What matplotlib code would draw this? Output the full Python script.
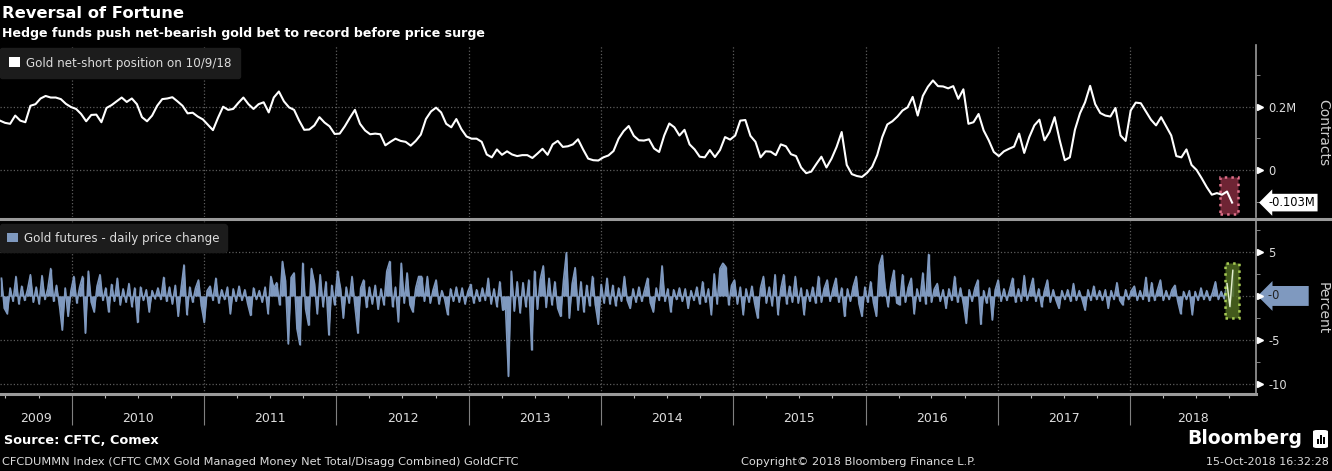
import numpy as np
import pandas as pd
import matplotlib
matplotlib.use("Agg")
import matplotlib.pyplot as plt
import matplotlib.dates as mdates
import matplotlib.transforms as mtransforms
from matplotlib.patches import Rectangle, FancyBboxPatch, Patch
from matplotlib.lines import Line2D

plt.rcParams['font.family'] = ['DejaVu Sans']

# gold managed money net position, million contracts, every two weeks up to 10/9/18
pos_end = '2018-10-09'
net_short = [
    0.156, 0.149, 0.146, 0.172, 0.156, 0.151, 0.203, 0.208, 0.226, 0.234,
    0.229, 0.229, 0.224, 0.209, 0.199, 0.193, 0.177, 0.154, 0.174, 0.175,
    0.151, 0.196, 0.205, 0.217, 0.229, 0.215, 0.226, 0.208, 0.167, 0.154,
    0.172, 0.203, 0.224, 0.226, 0.230, 0.217, 0.203, 0.179, 0.181, 0.169,
    0.160, 0.143, 0.126, 0.165, 0.200, 0.190, 0.193, 0.212, 0.229, 0.208,
    0.193, 0.208, 0.214, 0.182, 0.229, 0.248, 0.217, 0.198, 0.190, 0.156,
    0.127, 0.128, 0.141, 0.167, 0.150, 0.138, 0.114, 0.115, 0.138, 0.165,
    0.190, 0.146, 0.125, 0.113, 0.115, 0.113, 0.078, 0.089, 0.099, 0.092,
    0.089, 0.077, 0.092, 0.112, 0.161, 0.185, 0.197, 0.182, 0.146, 0.135,
    0.161, 0.129, 0.106, 0.099, 0.099, 0.089, 0.049, 0.040, 0.065, 0.048,
    0.059, 0.049, 0.044, 0.047, 0.047, 0.038, 0.052, 0.067, 0.048, 0.081,
    0.092, 0.073, 0.075, 0.081, 0.097, 0.065, 0.036, 0.031, 0.030, 0.040,
    0.046, 0.060, 0.099, 0.123, 0.139, 0.108, 0.094, 0.093, 0.097, 0.068,
    0.057, 0.109, 0.147, 0.135, 0.109, 0.127, 0.081, 0.065, 0.042, 0.040,
    0.063, 0.041, 0.063, 0.104, 0.096, 0.109, 0.156, 0.158, 0.108, 0.089,
    0.040, 0.059, 0.058, 0.047, 0.081, 0.075, 0.050, 0.044, 0.008, -0.010,
    -0.005, 0.019, 0.042, 0.008, 0.036, 0.073, 0.120, 0.016, -0.013, -0.019,
    -0.022, -0.009, 0.010, 0.047, 0.104, 0.144, 0.154, 0.169, 0.188, 0.198,
    0.231, 0.172, 0.234, 0.263, 0.283, 0.265, 0.264, 0.258, 0.265, 0.225,
    0.255, 0.146, 0.151, 0.177, 0.125, 0.094, 0.057, 0.044, 0.059, 0.067,
    0.074, 0.115, 0.054, 0.104, 0.141, 0.159, 0.094, 0.120, 0.167, 0.094,
    0.031, 0.040, 0.127, 0.179, 0.214, 0.266, 0.208, 0.180, 0.172, 0.169,
    0.196, 0.109, 0.092, 0.188, 0.213, 0.211, 0.185, 0.159, 0.141, 0.167,
    0.138, 0.109, 0.044, 0.040, 0.065, 0.016, 0.000, -0.026, -0.054, -0.078,
    -0.073, -0.078, -0.068, -0.103,
]

# gold futures daily % change, sampled every 8 days
chg_end = '2018-10-11'
chg_2009_2012 = [
    2.0, -1.4, -2.0, 0.9, -0.6, 2.2, -0.9, 1.1, -0.5, 0.7,
    2.4, -0.7, 1.0, -0.9, 2.3, -0.4, 0.8, 3.1, -0.6, 1.2,
    -1.0, -3.85, 0.9, -2.3, 0.6, 2.2, -0.8, 1.0, 2.2, -4.2,
    2.8, -0.7, -1.8, 1.1, 2.4, -0.5, 0.9, -1.8, 1.3, -0.6,
    2.0, -1.0, 0.8, -0.7, 1.4, -1.2, 0.9, -3.0, 1.0, -0.5,
    0.7, -1.8, 0.6, -0.3, 0.9, -0.4, 2.1, -0.6, 1.0, -0.9,
    1.2, -2.3, 0.8, 3.5, -2.1, 1.0, -0.7, 0.9, 1.8, -1.1,
    -3.0, 0.6, 1.1, -0.5, 2.0, -0.8, 0.7, -0.4, 1.0, -2.0,
    0.8, -0.6, 1.1, -0.5, 0.7, -0.9, -2.2, 0.9, -0.4, 0.6,
    -0.7, 1.0, -2.0, 2.2, 0.9, 1.5, -1.0, 3.9, 1.8, -5.4,
    2.1, 2.6, -3.7, -5.5, 3.7, -1.5, -3.3, 3.1, 1.5, -2.0,
    2.4, -1.2, 1.6, -4.4, 1.2, -1.0, 2.8, 0.9, -2.5, 1.0,
    -0.8, 2.2, -1.1, -4.2, 0.9, 1.8, -1.3, 1.0, -0.9, 1.2,
    -1.5, 0.8, -1.0, 2.8, 3.9, -1.2, 1.0, -2.9, 3.7, -0.8,
    2.6, -1.0, -1.8, 0.9, 2.2,
]
chg_2012_2015 = [
    2.2, -0.6, 2.2, -0.8, 0.7, 1.8, -0.9, 0.6, -0.4, -2.1,
    0.8, -0.6, 1.0, -0.7, 0.9, -0.9, 0.5, 1.3, -0.8, 0.7,
    -0.6, 0.9, -0.5, 2.0, -0.9, 0.8, -1.2, 1.6, -1.6, -1.4,
    -9.1, 2.8, -1.7, 1.6, -1.9, 1.5, -1.2, 1.8, -6.1, 2.8,
    -1.5, 1.9, 3.4, -1.3, 2.0, -1.0, 1.6, -1.4, -2.3, 1.8,
    4.9, -2.5, 1.4, 3.2, -1.6, 1.6, -1.8, 1.2, -1.1, 2.2,
    -1.0, -3.2, 1.3, -0.8, 2.0, -0.9, 1.2, -1.1, 0.9, -0.6,
    2.2, -0.5, -1.4, 0.8, -0.7, 1.0, -0.6, 0.7, 2.0, -0.8,
    -1.8, 0.9, -0.5, 3.4, -0.6, 0.8, -1.8, 0.7, -0.4, 0.9,
    -0.6, 0.8, -1.4, 0.6, -0.5, 1.0, -0.9, 1.6, -0.7, 0.8,
    -2.1, 2.5, -0.9, 3.1, 3.7, 3.3, -1.0, 1.2, 1.8, -0.9,
    1.0, -2.1, 0.8, -0.7, 1.1, -0.9, -2.5, 0.9, 2.2, -0.8,
    1.0, -1.1, 2.4, -2.1, 0.8, 2.4, -0.9, 1.1, -0.7, 2.2,
    -0.8, 0.9, -2.1, 0.7, -0.6, 1.0, -0.8, 2.2, -0.7, 0.9,
    1.8, -0.6, 0.8, 2.0, -0.7,
]
chg_2015_2018 = [
    0.9, -2.3, 0.8, -0.6, 1.1, 2.2, -0.9, -2.3, 1.0, -0.7,
    1.6, -0.8, -2.3, 3.5, 4.6, 0.9, -1.2, 1.3, 2.9, -0.8,
    -1.0, 2.4, -0.7, 1.0, 2.0, -2.0, 0.8, -0.6, 2.6, -0.9,
    4.7, -0.7, 0.8, 1.4, -0.6, 0.7, -1.4, 0.8, -0.5, 2.2,
    -0.7, 0.9, -0.8, -3.1, 0.7, -0.6, 0.9, 1.8, -3.2, 0.6,
    -0.8, 0.9, -2.7, 0.7, 1.8, -0.6, 0.8, -0.5, 0.7, 2.0,
    -0.7, 0.8, -0.6, 2.3, -0.5, 0.7, 2.0, -0.6, 0.8, -1.2,
    0.6, 1.8, -0.7, 0.7, -0.5, -1.4, 0.6, -0.4, 0.7, -0.6,
    1.4, -0.5, 0.6, -0.4, -1.6, 0.7, -0.5, 1.1, -0.4, 0.6,
    -0.5, 0.7, -1.4, 0.6, -0.4, 1.5, -0.5, -1.0, 0.7, -0.4,
    0.6, 1.1, -0.5, 0.6, -0.4, 2.1, -0.6, 1.5, -0.5, 0.7,
    1.8, -0.5, 0.6, -0.4, 0.7, 1.2, -0.6, -2.0, 0.5, -0.4,
    0.6, -2.1, 0.5, -0.5, 0.9, -0.4, 0.6, -0.5, 0.4, 1.6,
    -0.4, 0.5, -0.3, 1.4, -1.2, 2.9,
]
price_chg = chg_2009_2012 + chg_2012_2015 + chg_2015_2018

years = list(range(2009, 2019))
x_lo, x_hi = '2009-06-16', '2018-12-14'

pos_dates = pd.date_range(end=pos_end, periods=len(net_short), freq='14D')
chg_dates = pd.date_range(end=chg_end, periods=len(price_chg), freq='8D')

BLUE = '#7f99bf'
GRID = '#5c5c5c'
AXC = '#9a9a9a'
TXT = '#dddddd'

W, H = 1332, 471
fig = plt.figure(figsize=(W / 100, H / 100), dpi=100, facecolor='black')


def fx(px):
    return px / W


def fy(py):
    return 1 - py / H


ax1 = fig.add_axes([0, fy(217), fx(1256), (217 - 45) / H])
ax2 = fig.add_axes([0, fy(394), fx(1256), (394 - 221) / H])

for ax in (ax1, ax2):
    ax.set_facecolor('black')
    ax.spines['left'].set_visible(False)
    ax.spines['top'].set_visible(False)
    ax.spines['right'].set_color(AXC)
    ax.spines['right'].set_linewidth(1.2)
    ax.set_xlim(pd.Timestamp(x_lo), pd.Timestamp(x_hi))
    ax.xaxis.set_major_locator(mdates.YearLocator())
    ax.xaxis.set_minor_locator(mdates.MonthLocator(bymonth=[4, 7, 10]))
    ax.yaxis.tick_right()
    ax.grid(True, which='major', ls=':', color=GRID, lw=0.9)
    ax.tick_params(axis='y', which='major', length=0, pad=9, labelcolor=TXT, labelsize=8.3)
    ax.tick_params(axis='y', which='minor', length=3, color=AXC, direction='out')

ax1.spines['bottom'].set_visible(False)
ax1.tick_params(axis='x', which='both', bottom=False, labelbottom=False)
ax2.spines['bottom'].set_color(AXC)
ax2.spines['bottom'].set_linewidth(2.2)
ax2.tick_params(axis='x', which='major', length=22, color='#808080', width=0.8, labelbottom=False)
ax2.tick_params(axis='x', which='minor', length=3, color='#bbbbbb', width=0.8)

# top panel: net position
ax1.plot(pos_dates, net_short, color='white', lw=1.5, zorder=3)
ax1.set_ylim(-0.1485, 0.395)
ax1.set_yticks([0, 0.2])
ax1.set_yticklabels(['0', '0.2M'])
ax1.set_yticks([-0.1, 0.1, 0.3], minor=True)

# bottom panel: daily change
ax2.fill_between(chg_dates, price_chg, 0, color=BLUE, lw=0, zorder=2)
ax2.vlines(chg_dates, 0, price_chg, color=BLUE, lw=1.0, zorder=2)
ax2.plot(chg_dates, price_chg, color=BLUE, lw=1.2, zorder=2)
ax2.set_ylim(-11.09, 8.48)
ax2.set_yticks([5, 0, -5, -10])
ax2.set_yticklabels(['5', '', '-5', '-10'])
ax2.set_yticks([7.5, 2.5, -2.5, -7.5], minor=True)

# little triangles at the major ticks
for ax, ticks in ((ax1, [0, 0.2]), (ax2, [5, 0, -5, -10])):
    tr = mtransforms.offset_copy(ax.get_yaxis_transform(), fig=fig, x=4, units='dots')
    ax.plot([1.0] * len(ticks), ticks, ls='none', marker='>', ms=4.5, color='white',
            transform=tr, clip_on=False, zorder=5)

# highlight boxes around the latest values
d0, d1 = mdates.date2num(pd.Timestamp('2018-09-06')), mdates.date2num(pd.Timestamp('2018-10-24'))
ax1.add_patch(Rectangle((d0, -0.140), d1 - d0, 0.118, fc='#6e2434', ec='#e0708a',
                        ls=':', lw=1.8, zorder=2))
g0, g1 = mdates.date2num(pd.Timestamp('2018-09-20')), mdates.date2num(pd.Timestamp('2018-10-28'))
ax2.add_patch(Rectangle((g0, -2.5), g1 - g0, 6.2, fc='#4f6b22', ec='#c0e860',
                        ls=':', lw=1.8, alpha=0.85, zorder=4))
ax2.plot(chg_dates[-3:], price_chg[-3:], color='#e6f0d0', lw=1.0, zorder=5)

# last value flags
ax1.annotate('-0.103M', xy=(1, net_short[-1]), xycoords=('axes fraction', 'data'),
             xytext=(9, 0), textcoords='offset points', ha='left', va='center',
             fontsize=8.3, color='black', annotation_clip=False,
             bbox=dict(boxstyle='larrow,pad=0.2', fc='white', ec='none'))
ax2.annotate('-0       ', xy=(1, 0), xycoords=('axes fraction', 'data'),
             xytext=(9, 0), textcoords='offset points', ha='left', va='center',
             fontsize=8.3, color='#222222', annotation_clip=False,
             bbox=dict(boxstyle='larrow,pad=0.3', fc=BLUE, ec='none'))

# legends
ax1.legend(handles=[Patch(facecolor='white', label='Gold net-short position on 10/9/18')],
           loc='upper left', bbox_to_anchor=(0.0, 0.985), frameon=True, facecolor='#1c1c1c',
           edgecolor='#1c1c1c', framealpha=1, labelcolor=TXT, fontsize=8.6, handlelength=0.9,
           handleheight=0.9, handletextpad=0.5, borderpad=0.75, borderaxespad=0)
ax2.legend(handles=[Patch(facecolor=BLUE, label='Gold futures - daily price change')],
           loc='upper left', bbox_to_anchor=(0.0, 0.98), frameon=True, facecolor='#1c1c1c',
           edgecolor='#1c1c1c', framealpha=1, labelcolor=TXT, fontsize=8.6, handlelength=0.9,
           handleheight=0.9, handletextpad=0.5, borderpad=0.6, borderaxespad=0)

# year labels centred in the visible part of each year
xl0, xl1 = ax2.get_xlim()
for yr in years:
    lo = max(mdates.date2num(pd.Timestamp(f'{yr}-01-01')), xl0)
    hi = min(mdates.date2num(pd.Timestamp(f'{yr + 1}-01-01')), xl1)
    ax2.text((lo + hi) / 2, -0.14, str(yr), transform=ax2.get_xaxis_transform(),
             ha='center', va='center', fontsize=9, color=TXT)

# separator between panels
fig.add_artist(Line2D([0, 1], [fy(219), fy(219)], color=AXC, lw=2.2, transform=fig.transFigure))

fig.text(fx(1323), fy(133), 'Contracts', rotation=270, ha='center', va='center',
         fontsize=10, color='#cccccc')
fig.text(fx(1323), fy(308), 'Percent', rotation=270, ha='center', va='center',
         fontsize=10, color='#cccccc')

# titles
fig.text(fx(2), fy(14), 'Reversal of Fortune', ha='left', va='center', fontsize=11.8,
         weight='bold', color='white')
fig.text(fx(2), fy(33), 'Hedge funds push net-bearish gold bet to record before price surge',
         ha='left', va='center', fontsize=9.1, weight='bold', color='white')

# footer
fig.text(fx(4), fy(440), 'Source: CFTC, Comex', ha='left', va='center', fontsize=9.3,
         weight='bold', color='white')
fig.text(fx(2), fy(462), 'CFCDUMMN Index (CFTC CMX Gold Managed Money Net Total/Disagg Combined) GoldCFTC',
         ha='left', va='center', fontsize=8.2, color=TXT)
fig.text(fx(858), fy(462), 'Copyright© 2018 Bloomberg Finance L.P.', ha='center', va='center',
         fontsize=8.2, color=TXT)
fig.text(fx(1329), fy(462), '15-Oct-2018 16:32:28', ha='right', va='center', fontsize=8,
         color=TXT)
fig.text(fx(1302), fy(439), 'Bloomberg', ha='right', va='center', fontsize=13.5,
         weight='bold', color='white')
fig.add_artist(FancyBboxPatch((fx(1313), fy(448)), fx(15), 18 / H,
                              boxstyle='round,pad=0,rounding_size=0.003',
                              transform=fig.transFigure, fc='white', ec='none'))
for bx, bh in ((1317, 5), (1320, 9), (1323, 7)):
    fig.add_artist(Rectangle((fx(bx), fy(444)), fx(2), bh / H, transform=fig.transFigure,
                             fc='black', ec='none'))

fig.savefig('out.png', dpi=100, facecolor='black')
